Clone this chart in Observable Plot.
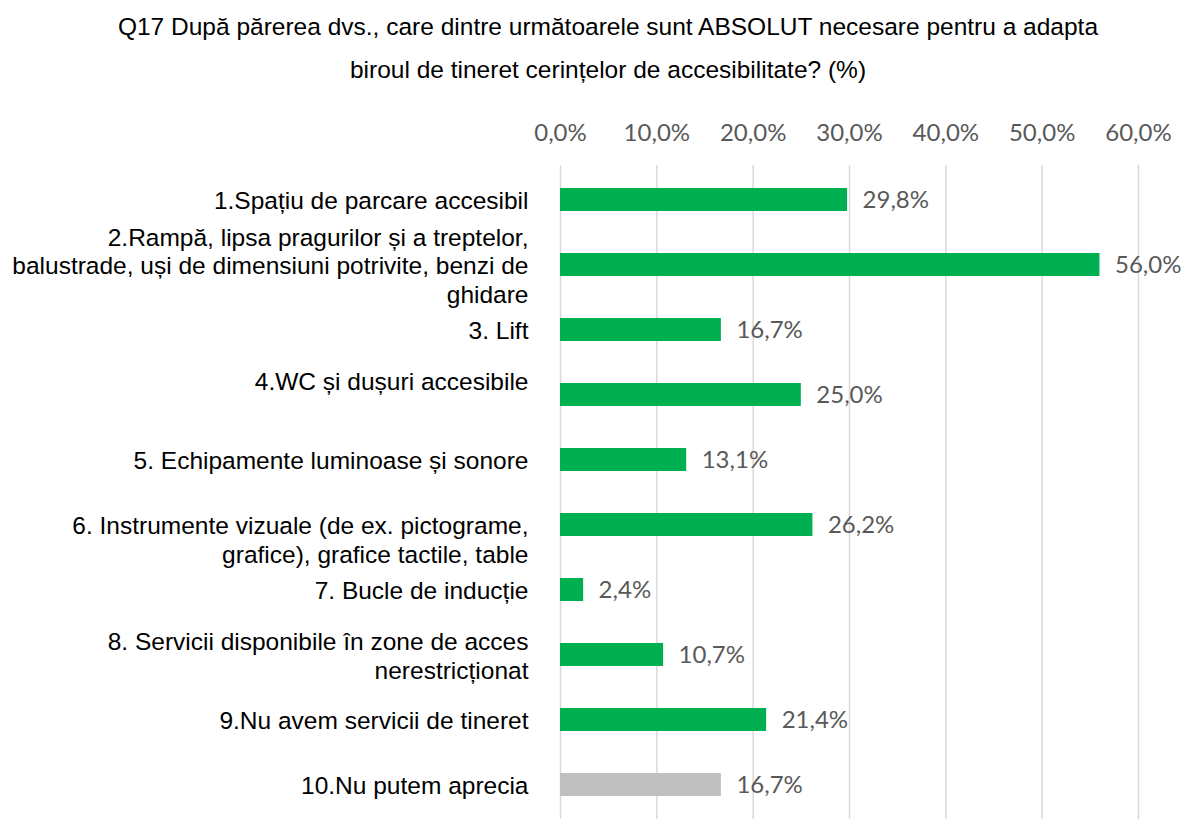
<!DOCTYPE html>
<html>
<head>
<meta charset="utf-8">
<script src="https://cdn.jsdelivr.net/npm/d3@7"></script>
<script src="https://cdn.jsdelivr.net/npm/@observablehq/plot@0.6"></script>
<style>
  body { margin: 0; background: #fff; }
  #title { box-sizing: border-box; width: 1182px; height: 95px; padding: 5px 0 0 34px; text-align: center;
    font-family: "Liberation Sans", Arial, sans-serif; font-size: 24.5px; line-height: 43px; color: #000; white-space: nowrap; }
</style>
</head>
<body>
<div id="title">Q17 După părerea dvs., care dintre următoarele sunt ABSOLUT necesare pentru a adapta<br>biroul de tineret cerințelor de accesibilitate? (%)</div>
<div id="chart"></div>
<script>
const categories = [
  "1.Spațiu de parcare accesibil",
  "2.Rampă, lipsa pragurilor și a treptelor,\nbalustrade, uși de dimensiuni potrivite, benzi de\nghidare",
  "3. Lift",
  "4.WC și dușuri accesibile\n",
  "5. Echipamente luminoase și sonore",
  "\n6. Instrumente vizuale (de ex. pictograme,\ngrafice), grafice tactile, table",
  "7. Bucle de inducție",
  "8. Servicii disponibile în zone de acces\nnerestricționat",
  "9.Nu avem servicii de tineret",
  "10.Nu putem aprecia"
];
const values = [29.8, 56.0, 16.7, 25.0, 13.1, 26.2, 2.4, 10.7, 21.4, 16.7];
const groups = ["da", "da", "da", "da", "da", "da", "da", "da", "da", "nu"];
const xTicks = [0, 10, 20, 30, 40, 50, 60];

const data = categories.map((c, i) => ({ id: i, label: c, value: values[i], group: groups[i] }));
const fmt = v => v.toFixed(1).replace(".", ",") + "%";

const chart = Plot.plot({
  width: 1182,
  height: 739,
  marginLeft: 560,
  marginRight: 44,
  marginTop: 70,
  marginBottom: 15,
  style: { background: "#fff" },
  x: { domain: [0, 60], axis: null },
  y: { domain: data.map(d => d.id), axis: null, paddingInner: 0.648, paddingOuter: 0.32 },
  color: { domain: ["da", "nu"], range: ["#00B050", "#BFBFBF"] },
  marks: [
    Plot.ruleX(xTicks, { stroke: "#D9D9D9", strokeWidth: 1.5 }),
    Plot.axisX(xTicks, { anchor: "top", tickSize: 0, tickPadding: 25, tickFormat: fmt,
      fontSize: 24, fill: "#595959", fontFamily: "Lato, 'Open Sans', sans-serif", label: null }),
    Plot.barX(data, { x: "value", y: "id", fill: "group" }),
    Plot.text(data, { x: "value", y: "id", text: d => fmt(d.value), textAnchor: "start", dx: 15,
      fontSize: 24, fill: "#595959", fontFamily: "Lato, 'Open Sans', sans-serif" }),
    Plot.text(data, { x: 0, y: "id", text: "label", textAnchor: "end", dx: -32, lineHeight: 1.17,
      fontSize: 24.5, fill: "#000", fontFamily: "'Liberation Sans', Arial, sans-serif" })
  ]
});
document.getElementById("chart").appendChild(chart);
</script>
</body>
</html>
